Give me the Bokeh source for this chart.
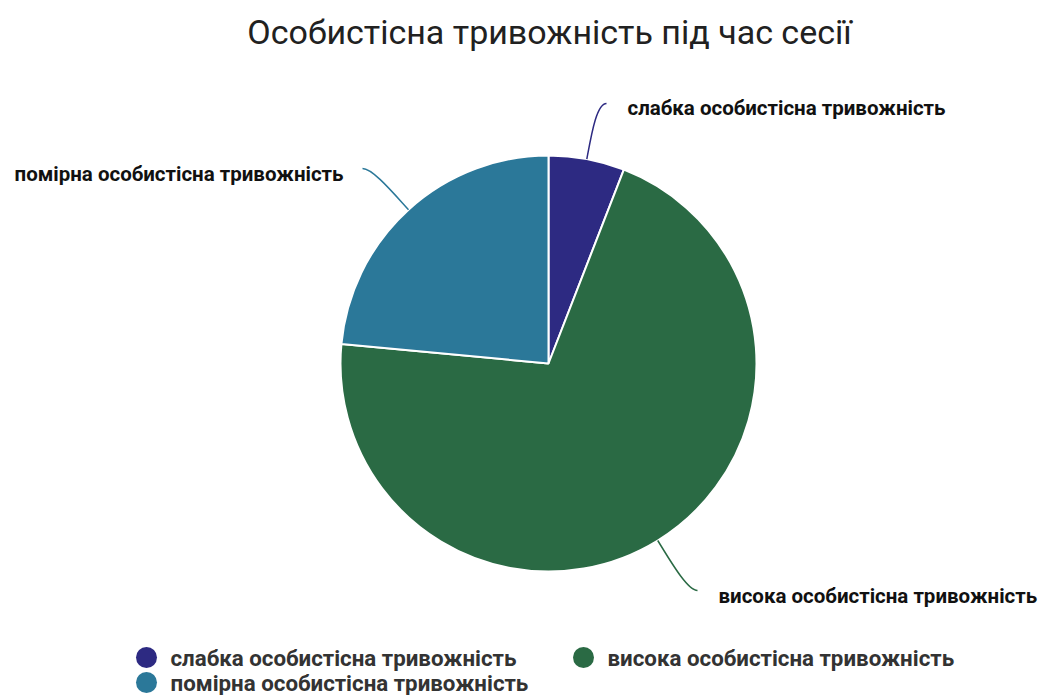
import math
from bokeh.plotting import figure
from bokeh.models import Range1d, ColumnDataSource
from bokeh.core.properties import value
from bokeh.embed import file_html
from bokeh.resources import INLINE

title = "Особистісна тривожність під час сесії"
categories = ["слабка особистісна тривожність",
              "висока особистісна тривожність",
              "помірна особистісна тривожність"]
values = [5.9, 70.6, 23.5]
colors = ["#2d2a82", "#2a6a44", "#2b7899"]

W, H = 1041, 695


def X(px):
    return px


def Y(py):
    return H - py


p = figure(width=W, height=H, x_range=Range1d(0, W), y_range=Range1d(0, H),
           output_backend="svg", toolbar_location=None, min_border=0)
p.axis.visible = False
p.grid.visible = False
p.outline_line_color = None
p.background_fill_color = "white"
p.border_fill_color = "white"

# title
p.text(x=[X(549)], y=[Y(31)], text=[title], text_align="center", text_baseline="middle",
       text_font=value("Roboto"), text_font_size="34px", text_color="#212121")

# pie
cx, cy, R = X(548), Y(363), 208
total = sum(values)
starts, ends, mids = [], [], []
cum = 0.0
for v in values:
    s = math.pi / 2 - 2 * math.pi * cum / total
    cum += v
    e = math.pi / 2 - 2 * math.pi * cum / total
    starts.append(s)
    ends.append(e)
    mids.append((s + e) / 2)

src = ColumnDataSource(dict(start=starts, end=ends, color=colors, cat=categories))
p.wedge(x=cx, y=cy, radius=R, start_angle="start", end_angle="end", direction="clock",
        fill_color="color", line_color="white", line_width=2, source=src)

# leader lines and labels
label_pos = [(606, 103, 627, 107, "left"),
             (697, 590, 718, 595, "left"),
             (362, 168, 343, 173, "right")]
for i, (ex, ey, tx, ty, al) in enumerate(label_pos):
    a = mids[i]
    x0 = cx + R * math.cos(a)
    y0 = cy + R * math.sin(a)
    c0x = cx + (R + 25) * math.cos(a)
    c0y = cy + (R + 25) * math.sin(a)
    x1, y1 = X(ex), Y(ey)
    off = -10 if al == "left" else 10
    p.bezier(x0=[x0], y0=[y0], x1=[x1], y1=[y1], cx0=[c0x], cy0=[c0y],
             cx1=[x1 + off], cy1=[y1], line_color=colors[i], line_width=1.5)
    p.text(x=[X(tx)], y=[Y(ty)], text=[categories[i]], text_align=al, text_baseline="middle",
           text_font=value("Roboto"), text_font_style="bold", text_font_size="20.5px",
           text_color="#111111")

# legend
leg_pos = [(146, 657), (583, 657), (146, 682)]
for i, (lx, ly) in enumerate(leg_pos):
    p.scatter(x=[X(lx)], y=[Y(ly)], size=21, marker="circle", fill_color=colors[i],
              line_color=None)
    p.text(x=[X(lx + 24)], y=[Y(ly)], text=[categories[i]], text_align="left",
           text_baseline="middle", text_font=value("Roboto"), text_font_style="bold",
           text_font_size="22.3px", text_color="#333333")

open("out.html", "w").write(file_html(p, INLINE))
